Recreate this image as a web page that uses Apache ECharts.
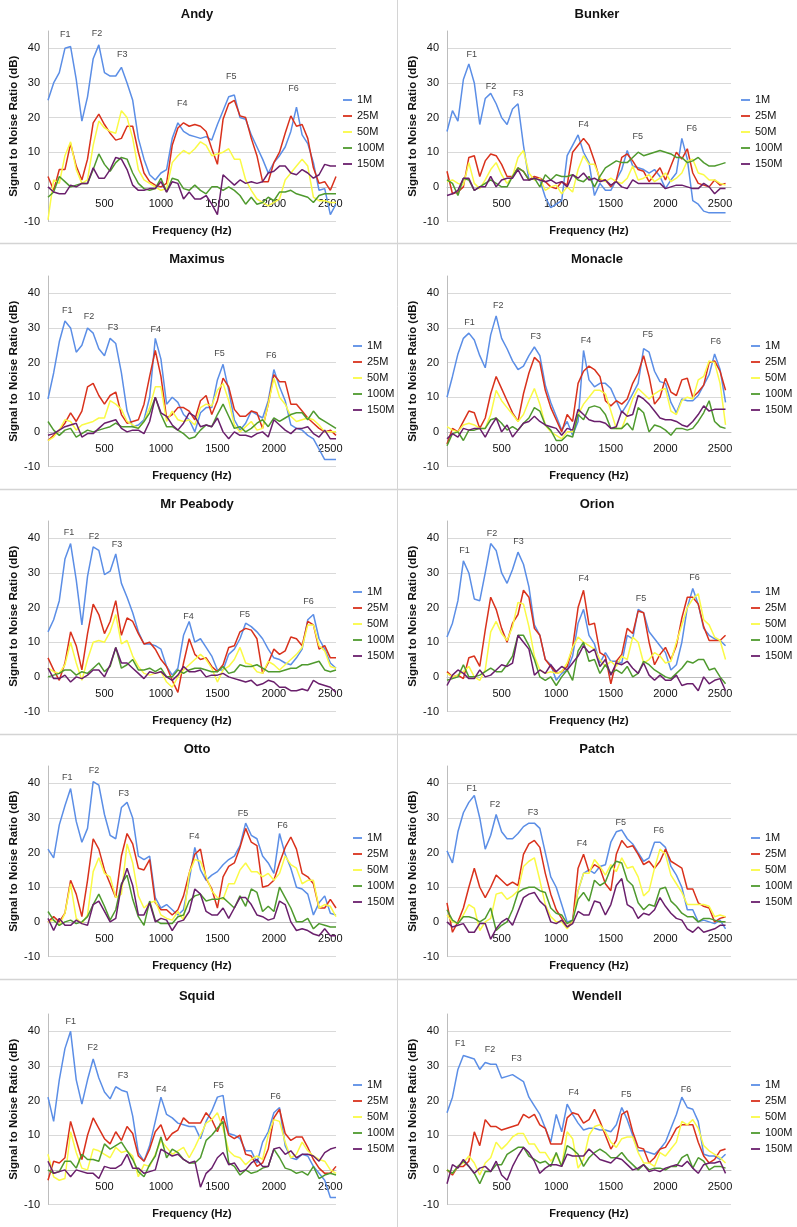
<!DOCTYPE html>
<html><head><meta charset="utf-8">
<script src="https://cdn.jsdelivr.net/npm/echarts@6/dist/echarts.min.js"></script>
<style>html,body{margin:0;padding:0;background:#fff}#c{width:797px;height:1227px}</style>
</head><body><div id="c"></div><script>
// ---------- DATA ----------
const FREQS = [0,50,100,150,200,250,300,350,400,450,500,550,600,650,700,750,800,850,900,950,1000,1050,1100,1150,1200,1250,1300,1350,1400,1450,1500,1550,1600,1650,1700,1750,1800,1850,1900,1950,2000,2050,2100,2150,2200,2250,2300,2350,2400,2450,2500,2550];
const SERIES_NAMES = ['1M','25M','50M','100M','150M'];
const Y_TICKS = [-10,0,10,20,30,40];
const X_TICKS = [500,1000,1500,2000,2500];
const FORMANT_LABELS = ['F1','F2','F3','F4','F5','F6'];

const andy1M   = [25,30,33,40,40.5,31,19,26,37,41,33,32,32,34.5,30,25,14,8,3.5,2,4,5,14,18.5,16,15,14.5,14,14.5,13.5,18,22,26,26.5,20,19.5,15,11.5,8,4,7,9,11.5,16,23,15,12.5,7,-1,-0.5,-8,-5];
const andy25M  = [3,-1,5,5,12.5,6,2,8,18.5,21,18,15.5,13.5,14,17.5,17.5,10,4,1.5,0.5,0,1,12,17,18.5,17.5,18,17.5,16,11,6.5,19.5,24,25,20.5,20,14,9,1.5,1.5,7,10,15.5,20.5,17.5,18,14,5.5,1,1.5,-1,3];
const andy50M  = [-9.5,2,1,9,13,5,1,2,12,19,17,16,15.5,22,20,14,5,2,1,0,-1,-0.5,7,9,10.5,9.5,11,13,12,9,9.5,10,11,8,8,2,-1,-3.5,-4.5,-5.5,-4.5,-3.5,2,4,6,8,6,-3,-4,-4,-4.5,-4.5];
const andy100M = [-3,-1.5,3,1.5,0,0.5,1,1,5,9.5,6.5,4.5,7,8.5,8,4,1,-0.5,-1,-0.5,2.5,-1.5,2.5,2,-0.5,-1,0.5,-1,-2,0,0,-1,0,-1,-2.5,-5,-3,-5,-4.5,-3,-4,-1.5,-1.5,-1,-2,-2.5,-3,-4.5,-2.5,-2,-2,-2];
const andy150M = [0,-1.5,-2,-2,0.5,0,1,1,5.5,2.5,2.5,5,8.5,8,5,0.5,-1,-1,-0.5,-0.5,1.5,-1.5,1.5,1,-3.5,-1.5,-3.5,-3.5,-2.5,-5,-8,3.5,2,0.5,2,1,1.5,1,1.5,4,4.5,6,6,4,3.5,5,4,2.5,3.5,6.5,6,6];
const andyF    = [[153,43.9],[434,44.3],[658,38.3],[1189,24.1],[1622,32],[2174,28.4]];

const bunker1M   = [16,22,19,31,35.5,30,18,25.5,27,24,20,18,22.5,24,12,2,2.5,2,-3,-6,-5,-4,9,12,15,10,7,-2.5,1,-1,-1,2,5,10.5,6,5.5,5,4,5,3,-0.5,2,4,14,8,-4,-5,-7,-7.5,-7.5,-7.5,-7.5];
const bunker25M  = [4.5,-2,-1.5,0,8.5,9,3,7.5,9.5,9,6.5,3,3,5.5,4.5,2,3,2.5,1.5,0,-0.5,1.5,0.5,10,12,14,12,7.5,2,2,0,2,8.5,9.5,7.5,5,4.5,1.5,3.5,5.5,2,6,10,8,11,4,1,0.5,0,2,0.5,1];
const bunker50M  = [1.5,2,1,0.5,7,1,-0.5,2,5,7,3.5,1,3,8.5,10.5,4,2,2.5,-1,0,0.5,-2,0,-1.5,5,9,6.5,6.5,2.5,1.5,2.5,1.5,1,2.5,6,2,2.5,3.5,1.5,2.5,4,1.5,2.5,4,7.5,8,4,3.5,2,2,1,0.5];
const bunker100M = [2,1,-2.5,2.5,2,-1,0,1,2,1,0,0,3,5.5,4.5,2,2.5,0,3.5,2,3.5,3,3,3.5,2,1.5,3,0,3,5.5,6.5,7.5,7,7,8.5,10,9,9.5,10,10.5,10,9.5,8.5,8.5,7,7.5,8.5,7,6,6,6.5,7];
const bunker150M = [-2.5,-2,-1,2.5,2.5,-1,0,0,3,0,2,2.5,2.5,5,2,2,2.5,2,1.5,2,1,1.5,0,3.5,2.5,4,2,2.5,1.5,2,0.5,1.5,0,-0.5,2,1,1,1,1,1,-0.5,0,0.5,0.5,0,-0.5,-0.5,1,0,-2,-0.5,-0.5];
const bunkerF    = [[226,38.3],[403,28.9],[653,27],[1249,18.1],[1747,14.4],[2241,16.9]];

const maximus1M   = [9.5,17,26,32,30,23,25,30,28.5,24,22,27,25.5,17,6,1.5,2,3.5,10,27,21,8,10,8.5,5,3.5,0,5.5,7,7,15,19.5,12,3.5,0.5,2.5,6,5,4,9,18,13,9,2,1,0.5,-1,-2,-5,-8,-8,-8];
const maximus25M  = [-2.5,-1,0.5,2.5,5.5,3,6,13,14,10.5,8,10.5,11.5,5,2.5,3,3.5,8,16,23.5,16,4,5,7,7,6,3.5,9,10.5,5,9,15.5,13,6.5,4.5,4.5,6,5.5,1,8,16.5,14.5,14.5,8,8,6,4,2.5,1,0,0.5,-1];
const maximus50M  = [-2.5,-1.5,0.5,3.5,3,0.5,2,2.5,3,4,4,9,8,6.5,3,2,1,3,7,13,13,3,6,3.5,3,3.5,2,7,8,7.5,12,14,9,2,0,1.5,3,0.5,1,8,15.5,10,8,4.5,3,3.5,4,3.5,2,0,0,0];
const maximus100M = [3,0.5,-1,0.5,1,-1.5,-0.5,0.5,0,0.5,1,1.5,2.5,1.5,1.5,1.5,1,3,5.5,10,5,1.5,1.5,0.5,-0.5,-2,-1.5,0.5,2,1.5,5,8,4.5,1,1.5,0,1,2.5,3.5,1.5,4,3,4,5,5.5,5.5,3.5,6,4,3,2,1];
const maximus150M = [-1,-0.5,0.5,1.5,2,2.5,-1.5,-0.5,-0.5,1,2.5,3,3.5,1,0,0.5,0.5,-0.5,3,10,5.5,4.5,2,0.5,2.5,5.5,4.5,1.5,2,1.5,4,0,-2,0,-1,-1,-1.5,-0.5,0,-1.5,3.5,2,0.5,-0.5,1,1,1.5,-0.5,-1.5,0.5,-2,-2];
const maximusF    = [[171,35],[363,33.3],[575,30.2],[953,29.6],[1519,22.7],[1976,21.9]];

const monacle1M   = [10,16,22.5,27,28.5,26.5,22,18.5,28,33.5,27,24,20.5,18,19,22,24.5,22,13.5,8.5,4.5,0.5,3,-1,3,23.5,15,13,14,14,12.5,9,5.5,8,11,14,24,23,17.5,14.5,14,8.5,5.5,9.5,9,9,10.5,13.5,16.5,22.5,18,8.5];
const monacle25M  = [-3.5,1,0,3,6,5.5,1,4,11,16,12.5,9,5.5,3,11,17,21.5,20,12,7,3.5,0,5,3,14,17.5,19,18,16,9,7.5,9,8,9.5,14,17,22,16,8,10,15.5,11.5,10.5,15,15.5,10,11.5,13.5,20,20.5,17.5,12];
const monacle50M  = [1.5,0.5,0,2,2.5,2,1,1,5,12,9,7,5,3,5,9,12.5,8,2,0,-1,-2,0,0,5,8,10,12,12,11,6,1,1,5,9.5,12.5,11,9.5,11,12,12.5,6,5,9,10,9.5,15,16,20.5,20,14,2];
const monacle100M = [-4,-0.5,0,-2.5,0.5,0.5,1,1,3.5,4,2.5,0.5,1.5,0.5,2.5,4,7,6,2,0.5,-2.5,-2.5,-1,-1.5,5,3.5,7,7.5,7,5,1,1,1,2.5,0.5,7,5.5,0,2,1.5,0.5,-1,1,1,0.5,1,3,5.5,9,3,1.5,1];
const monacle150M = [-2,-0.5,-1.5,1,0.5,1,1,-1.5,1.5,4,0,2,-1.5,0.5,2.5,3,4.5,3,2,1.5,1,-1,1,0.5,6.5,5,3.5,3,3,2.5,1,1.5,6,4.5,5,10.5,9.5,8,6,4,3.5,3.5,3,2,1.5,3,5,7.5,6,6.5,6.5,6.5];
const monacleF    = [[206,31.5],[470,36.6],[812,27.5],[1273,26.3],[1839,28],[2461,26.1]];

const peabody1M   = [13,16.5,22,34,38.5,28,15,29,37.5,36.5,29.5,30.5,35.5,27,23,18.5,13,9.5,9.5,9,8,3,0.5,2.5,12,16,10,11,8.5,6,2,2,6.5,8,11,15.5,14.5,13,11,8,5.5,5,4,3.5,5.5,8,16.5,18,11,8,4,2.5];
const peabody25M  = [5.5,2,-1,4,13,9,2,12.5,21,18,12.5,16,22,12,17,16,12.5,9.5,10,8,5,3,-1,-4.5,4,11,6.5,5,5.5,3,1.5,3.5,8.5,9,13,14,13.5,11,1,4,8,6.5,7.5,11.5,11,9,16,15,8,9,5.5,5.5];
const peabody50M  = [2.5,1.5,1,3.5,10,4,-1,5,10,10.5,10,13,18,9.5,10.5,6,3,1,0.5,1,1.5,-1.5,-3,0,2,3.5,5,6.5,5,2.5,-1.5,2,3,5,8.5,4,3.5,1.5,1,4.5,3.5,2,3.5,5,6.5,8.5,15,15,9,7.5,3,2.5];
const peabody100M = [0,0.5,1,2,2,0.5,1.5,1,2.5,4,1.5,3,8.5,2.5,3.5,5,2,2,2.5,1.5,2.5,0,0,2,1,2,2.5,2.5,2,1.5,1.5,3,1,1.5,3.5,3,3,3.5,2.5,1.5,1.5,1.5,2,2.5,2.5,3.5,3.5,4,4.5,2,1.5,2];
const peabody150M = [2.5,-0.5,-0.5,0.5,-1.5,0,-0.5,0.5,2,2,0,3.5,8.5,4,4,2.5,1,-0.5,1.5,1,1.5,0,-1,0.5,3,1.5,1.5,2,0,0.5,0.5,1,0,-0.5,-1,-1.5,-1,-2.5,-2,-1,-1.5,-3,-3,-4,-4,-3.5,-4,-1,-2,-2.5,-3,-4.5];
const peabodyF    = [[185,41.6],[408,40.4],[610,38.3],[1244,17.5],[1741,17.9],[2307,21.7]];

const orion1M   = [11.5,15.5,22,33.5,30,22.5,22,30,38.5,36.5,30,27,31,36,32.5,26,15,12,5,3.5,-1,1,2,6,15.5,19.5,12,9.5,4,7,4.5,4.5,4,12,11,19.5,18.5,13,11,9,7,2,3.5,10,20,25.5,21,14,12,11,10.5,9];
const orion25M  = [1.5,0,0.5,-0.5,5.5,6,3,13.5,23,19.5,14,10,15.5,18,25,23,14,12,5,3,1,1.5,3,8.5,20,25,15,15.5,7,6,-2,4.5,6.5,14,12.5,19,18.5,10,3.5,6.5,8.5,5,9,17,23,23,21,14.5,10.5,10.5,10.5,12];
const orion50M  = [1,0,0.5,1.5,3,0,-1,2,13,16,12.5,10.5,14.5,21.5,21,14.5,6,2,1,1.5,1,1.5,4,8.5,11.5,10,9,8,5,3,4.5,3,6,5,11.5,10,4,5,7,6,4,4.5,10,15,20,22.5,24,16.5,15,11.5,10.5,5];
const orion100M = [-1,-0.5,0,3.5,0,0,0.5,1.5,2.5,1.5,1.5,3.5,6,12,12,9,5,0,-1,0,-2.5,0,2,-1,7.5,10,4.5,5,1,3.5,1,2,1,3,0,1,4.5,3.5,2,1,0,-0.5,1,2.5,4.5,4,5,5,2,2.5,0,-2];
const orion150M = [-2.5,0.5,2,1,-0.5,-0.5,2,0,0.5,2,3.5,3,4,12,10,8,0.5,2,1,3.5,1.5,3,2,4,6,9,7,8,3,5,0.5,4,3.5,4.5,2.5,1,4,0.5,-1,0.5,-1,-1,0.5,-2.5,-2,-2,-4,0,-2,-1,-0.5,-4];
const orionF    = [[161,36.5],[412,41.3],[655,39.2],[1252,28.4],[1776,22.6],[2267,28.7]];

const otto1M   = [21,18.5,28,33.5,38.5,29,23,27,40.5,39.5,31,25,24,33,34.5,30,19,18,19,7,4,5,3.5,2,3.5,12,21.5,15,12,13.5,14.5,16.5,18,19,22,28.5,25,24,19,17,14,25.5,19.5,15.5,10,9.5,8,2,5.5,7.5,2.5,2];
const otto25M  = [0,1.5,0,2.5,12,8,1.5,12,24,21,15,11,7,19,25.5,22.5,15.5,15,18,5.5,3.5,3.5,2,3.5,7.5,14,19.5,21,12.5,9.5,4,13,16,17,21.5,27,23,22,10,10.5,12,17,21.5,24.5,21,14,13,11,4,4,6.5,4];
const otto50M  = [0,0.5,-1,2.5,11,1,-0.5,2,14.5,18.5,14,13,7,8,22.5,17,7.5,4,5.5,6,2,1,0.5,3,0.5,14,18,17.5,13,9,7,6.5,11,11,15,17,14.5,14.5,13,14,12,14,19,16.5,15.5,11,12,12,4,5,4.5,1.5];
const otto100M = [3,0.5,-1,0,0.5,-0.5,0,1.5,5,8,4.5,0.5,3.5,11,13.5,6.5,1.5,-1,6,0.5,-0.5,-0.5,-0.5,1.5,2,6,7.5,8,6,6.5,6.5,7,5.5,4,7.5,4.5,9.5,8.5,3,4.5,3,10,7,4,0,0,1,-2,-0.5,-1,-1.5,-1.5];
const otto150M = [1,-2.5,1,-1,-1,0.5,-0.5,-1,5,6,3,0,1,10.5,15.5,10.5,2,2,5.5,0,1,0.5,-2.5,0,0.5,3,9.5,8,3,2,2,4,1,4,7,7,5,2,1.5,0.5,1,6,5,0,-2.5,-2,-2.5,-3.5,-4,-2,-4,-4];
const ottoF    = [[170,41.6],[408,43.6],[670,37],[1295,24.5],[1726,31.3],[2077,27.9]];

const patch1M   = [20.5,17,26,31.5,34.5,36.5,30,21,25,31,26,24,24,25.5,27.5,28.5,28.5,27,20,13,10,5,0,0.5,9,14,15,14,16,16.5,23,26,26.5,24,22.5,20,17.5,18.5,23,23,21.5,16,13.5,10,3.5,3.5,0,0.5,0,-0.5,0.5,-2];
const patch25M  = [5.5,-3,0,4,10,15.5,10,7,10,13.5,12,10.5,11.5,10.5,19.5,22.5,23.5,21.5,14,8,3.5,1,-1.5,0,15.5,19.5,14.5,16.5,15.5,11,9,19.5,23.5,21.5,22,19.5,16.5,17.5,15.5,17.5,21,17.5,16.5,15.5,9.5,9.5,5.5,4.5,4,0,1,1.5];
const patch50M  = [2,0,-0.5,2,5,4,-2.5,0,1,8,8.5,6.5,7.5,9,16,17.5,18.5,12,5,1.5,0,0,-2,0,9,14,14,18,16,13.5,16.5,14.5,18.5,15.5,16,13,7.5,9,15.5,21,19.5,13.5,11,8.5,5,5,5,5,4.5,1.5,2,1.5];
const patch100M = [3.5,0.5,-0.5,1.5,1.5,1,0,1,4,-2.5,-1,0,3.5,8.5,9.5,10,10,9,8.5,4,2.5,2,-0.5,0.5,6.5,8.5,6,12,10.5,11.5,15.5,17.5,17,12,10.5,5.5,3.5,5,4.5,9.5,10,6,4.5,2.5,1.5,1.5,0,1,1,0.5,0,0];
const patch150M = [0,-1.5,-1,-0.5,-3,-3,-0.5,-0.5,-5,-2,0,1,-1,3,7,8,8.5,6,4.5,0,-0.5,0.5,-1.5,-0.5,3,2,2,6,5.5,2,5,10.5,12.5,5,4,1,2.5,2,3.5,7,4.5,2.5,1,0.5,-2,-3,-1.5,-3,-2.5,-2,-1,-1];
const patchF    = [[227,38.5],[439,34],[788,31.7],[1236,22.6],[1591,28.7],[1939,26.3]];

const squid1M   = [21,14,26,35,40,26,19,26,32,26.5,22.5,20.5,24,23,22.5,15.5,5,2.5,7,14,21,16,15,13.5,13,12.5,12.5,9,14,17,21,21.5,10.5,10,9,5.5,5.5,2,8,11,16.5,18,7,3.5,3,4.5,4,1,-1,-3,-8,-8];
const squid25M  = [-3,2.5,2,3.5,14,8.5,3,10,15,12,9,7.5,11,8.5,12.5,10.5,4,2.5,6,11,13,8.5,10.5,11.5,15,13.5,13.5,13.5,16.5,14.5,11,15.5,10,9,10,4.5,4,1,2,6,15,17.5,10.5,8.5,9.5,9.5,6.5,3,0.5,-1,-1,1];
const squid50M  = [4.5,-2,-3,-2.5,11,5,0.5,0,6,5.5,4.5,3.5,6.5,5,5.5,4,-2,1.5,1,4.5,8.5,6.5,4.5,5.5,6.5,3.5,6.5,10,13.5,14.5,16.5,12,5.5,4,3.5,1.5,3,4,3,10,14.5,14,8,3.5,4.5,8,5.5,4,3,2.5,0,-1];
const squid100M = [0,-1,-0.5,2.5,2.5,0.5,4.5,3,3,2.5,7.5,6,7,8,5.5,3,-0.5,-2,1.5,4,9.5,3.5,6,5,3,2,2,3.5,8.5,10,12,14,2,1,-1.5,0,-1,-0.5,0.5,1,6,3.5,0.5,0,-1,-0.5,-1.5,1,-2.5,-1.5,-1,-1.5];
const squid150M = [2.5,-1,-0.5,0,-2,0,-0.5,-1,-1,-2.5,1,0.5,0.5,1.5,4.5,0.5,0.5,-1,-0.5,0,6,5,4,4.5,3,2,2.5,-5,-1,0.5,3.5,5,1.5,2,-0.5,0,2,3,1,1,6,6.5,4.5,5.5,3.5,4.5,4.5,4,2.5,5,6,6.5];
const squidF    = [[202,42.9],[396,35.2],[664,27.3],[1003,23.2],[1509,24.3],[2015,21.3]];

const wendell1M   = [16.5,21,29,33,32.5,32,29,31,30.5,30.5,26.5,27,27.5,26.5,25.5,21,18.5,16,12,8,16,11,19,16,13.5,11.5,12,12,11.5,11.5,11,13,18,14.5,10,5.5,5.5,5,4.5,6,8,12,16,21,18,17.5,14,4.5,4,4,3,4.5];
const wendell25M  = [0,-1.5,1,1,2.5,11,7,14.5,12.5,12.5,11.5,12,12.5,13,16,15,16,13,12,7.5,7.5,7.5,15,16.5,16,13.5,14.5,17.5,14,10,6,8.5,16,17,11,6.5,6,2,3.5,6,6.5,9,12,13,13,13,8,4,2,3,5.5,6];
const wendell50M  = [0,-1,1,2,4,2,-1.5,2,3.5,8,6,7.5,9.5,10.5,10.5,7.5,7.5,5,5,2.5,4.5,1,11,9,0.5,3,10,12.5,13,11,8,6.5,9,9.5,9.5,5,2,2,1,5,4,6,8,14,13,14.5,12,7,5.5,4.5,3.5,2];
const wendell100M = [0,-1,1,2.5,1,-1,-4,-0.5,-0.5,1.5,1.5,4.5,5.5,6.5,6.5,4,3,2,2.5,1,5,1,7,6,4.5,1,3.5,5,6,5,3.5,3.5,5,3,1.5,0,1.5,0,0.5,0.5,0,1,1,3.5,4.5,0.5,3.5,2.5,0,1,1,0.5];
const wendell150M = [-4,1.5,0.5,3,1,-1,0.5,1,-0.5,2.5,-1.5,-3,1,4,6.5,5,2.5,-1,0.5,1.5,1.5,1,4.5,4,4,4,6,4.5,3,2.5,2,3.5,3,1.5,0,0.5,1.5,-0.5,0,-0.5,0.5,1,1.5,1,2.5,0.5,-1,1.5,2,2,2.5,-1];
const wendellF    = [[121,36.6],[394,34.7],[636,32.1],[1161,22.2],[1642,21.7],[2188,23.2]];

// ---------- PANELS (built from the arrays above) ----------
const PANELS = [
  {title:'Andy',      lines:[andy1M,andy25M,andy50M,andy100M,andy150M],                formants:andyF},
  {title:'Bunker',    lines:[bunker1M,bunker25M,bunker50M,bunker100M,bunker150M],      formants:bunkerF},
  {title:'Maximus',   lines:[maximus1M,maximus25M,maximus50M,maximus100M,maximus150M], formants:maximusF},
  {title:'Monacle',   lines:[monacle1M,monacle25M,monacle50M,monacle100M,monacle150M], formants:monacleF},
  {title:'Mr Peabody',lines:[peabody1M,peabody25M,peabody50M,peabody100M,peabody150M], formants:peabodyF},
  {title:'Orion',     lines:[orion1M,orion25M,orion50M,orion100M,orion150M],           formants:orionF},
  {title:'Otto',      lines:[otto1M,otto25M,otto50M,otto100M,otto150M],                formants:ottoF},
  {title:'Patch',     lines:[patch1M,patch25M,patch50M,patch100M,patch150M],           formants:patchF},
  {title:'Squid',     lines:[squid1M,squid25M,squid50M,squid100M,squid150M],           formants:squidF},
  {title:'Wendell',   lines:[wendell1M,wendell25M,wendell50M,wendell100M,wendell150M], formants:wendellF}
];

// ---------- LAYOUT / STYLE ----------
const COLORS = ['#5b8ee6','#d9311c','#fafa46','#4f9a2e','#6a1f6c'];
const FONT = '"Liberation Sans", Arial, Helvetica, sans-serif';
const Y_MIN = -10, Y_MAX = 45;
const COL_LEFT = [48, 447], COL_WIDTH = [288, 284], COL_XMAX = [2550, 2600];
const ROW_TOP = [31, 276, 521, 766, 1014], PLOT_H = 190.5;
const TITLE_Y = [14, 259, 504, 749, 996], TITLE_X = [197, 597];
const LEGEND_LEFT = [[343, 741], [353, 751], [353, 751], [353, 751], [353, 751]];
const LEGEND_TOP = [92, 338, 584, 830, 1077];
// the x axis crosses the y axis at 0 dB (Excel style)
const X_AXIS_OFFSET = -PLOT_H * (0 - Y_MIN) / (Y_MAX - Y_MIN);

const grid = [], xAxis = [], yAxis = [], series = [], title = [], legend = [];
PANELS.forEach((p, i) => {
  const row = Math.floor(i / 2), col = i % 2;
  grid.push({left: COL_LEFT[col], top: ROW_TOP[row], width: COL_WIDTH[col], height: PLOT_H, containLabel: false});
  xAxis.push({
    gridIndex: i, type: 'value', min: 0, max: COL_XMAX[col], interval: 500,
    position: 'bottom', offset: X_AXIS_OFFSET,
    axisLine: {show: true, onZero: false, lineStyle: {color: '#bdbdbd', width: 1}},
    axisTick: {show: false}, splitLine: {show: false},
    axisLabel: {formatter: v => X_TICKS.includes(v) ? String(v) : '', fontSize: 11, color: '#111', margin: 12, fontFamily: FONT},
    name: 'Frequency (Hz)', nameLocation: 'middle', nameGap: 39,
    nameTextStyle: {fontWeight: 'bold', fontSize: 11, color: '#111', fontFamily: FONT}
  });
  yAxis.push({
    gridIndex: i, type: 'value', min: Y_MIN, max: Y_MAX, interval: 10,
    axisLine: {show: true, onZero: false, lineStyle: {color: '#bdbdbd', width: 1}},
    axisTick: {show: false},
    splitLine: {show: true, showMaxLine: false, lineStyle: {color: '#d9d9d9', width: 1}},
    axisLabel: {formatter: v => Y_TICKS.includes(v) ? String(v) : '', fontSize: 11, color: '#111', margin: 8, fontFamily: FONT},
    name: 'Signal to Noise Ratio (dB)', nameLocation: 'middle', nameRotate: 90, nameGap: 23,
    nameTextStyle: {fontWeight: 'bold', fontSize: 11.5, color: '#111', fontFamily: FONT}
  });
  title.push({text: p.title, left: TITLE_X[col], top: TITLE_Y[row] - 6, textAlign: 'center', padding: 0,
    textStyle: {fontSize: 13, fontWeight: 'bold', color: '#111', fontFamily: FONT}});
  legend.push({data: SERIES_NAMES, orient: 'vertical', left: LEGEND_LEFT[row][col], top: LEGEND_TOP[row],
    icon: 'rect', itemWidth: 9, itemHeight: 1.8, itemGap: 0, padding: 0, selectedMode: false,
    textStyle: {fontSize: 11, lineHeight: 16, color: '#111', fontFamily: FONT}});
  p.lines.forEach((vals, k) => {
    series.push({
      type: 'line', name: SERIES_NAMES[k], xAxisIndex: i, yAxisIndex: i,
      data: FREQS.map((f, j) => [f, vals[j]]),
      symbol: 'none', showSymbol: false, silent: true,
      lineStyle: {width: 1.5, color: COLORS[k]}, itemStyle: {color: COLORS[k]},
      emphasis: {disabled: true}
    });
  });
  series.push({
    type: 'scatter', name: 'formants', xAxisIndex: i, yAxisIndex: i, silent: true,
    symbol: 'circle', symbolSize: 1, itemStyle: {color: 'rgba(0,0,0,0)'},
    data: p.formants.map((pt, k) => ({value: pt, name: FORMANT_LABELS[k]})),
    label: {show: true, position: 'inside', formatter: '{b}', fontSize: 9, color: '#111', fontFamily: FONT},
    z: 5
  });
});

const graphic = [
  {type: 'line', shape: {x1: 397.5, y1: 0, x2: 397.5, y2: 1227}, style: {stroke: '#d4d4d4', lineWidth: 1}, silent: true},
  ...[243.5, 489.5, 734.5, 979.5].map(y => ({type: 'line', shape: {x1: 0, y1: y, x2: 797, y2: y}, style: {stroke: '#d4d4d4', lineWidth: 1.5}, silent: true}))
];

const chart = echarts.init(document.getElementById('c'), null, {renderer: 'canvas'});
chart.setOption({animation: false, backgroundColor: '#fff', grid, xAxis, yAxis, series, title, legend, graphic});
</script></body></html>
